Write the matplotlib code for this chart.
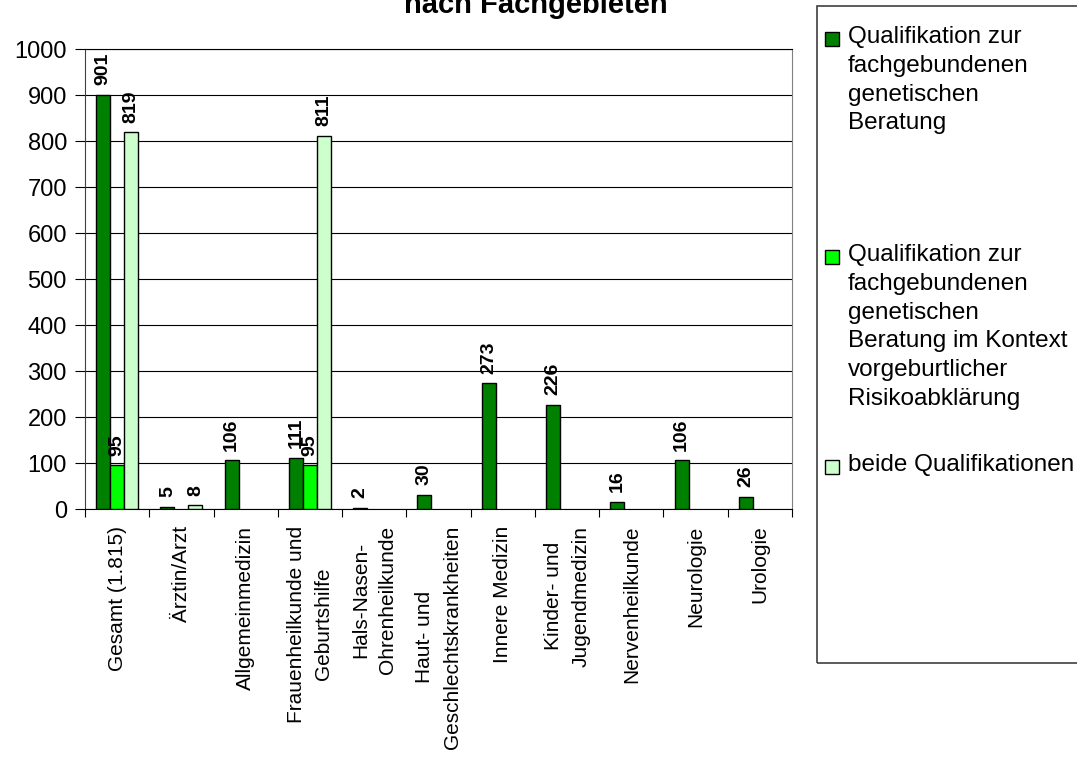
import numpy as np
import matplotlib
matplotlib.use('Agg')
import matplotlib.pyplot as plt
from matplotlib.patches import Rectangle

plt.rcParams['font.family'] = ['Liberation Sans', 'DejaVu Sans']

categories = ['Gesamt (1.815)', 'Ärztin/Arzt', 'Allgemeinmedizin',
              'Frauenheilkunde und\nGeburtshilfe', 'Hals-Nasen-\nOhrenheilkunde',
              'Haut- und\nGeschlechtskrankheiten', 'Innere Medizin',
              'Kinder- und\nJugendmedizin', 'Nervenheilkunde', 'Neurologie',
              'Urologie']
fachgebunden = [901, 5, 106, 111, 2, 30, 273, 226, 16, 106, 26]
vorgeburtlich = [95, 0, 0, 95, 0, 0, 0, 0, 0, 0, 0]
beide = [819, 8, 0, 811, 0, 0, 0, 0, 0, 0, 0]

series_names = ['Qualifikation zur\nfachgebundenen\ngenetischen\nBeratung',
                'Qualifikation zur\nfachgebundenen\ngenetischen\nBeratung im Kontext\n'
                'vorgeburtlicher\nRisikoabklärung',
                'beide Qualifikationen']
colors = ['#008000', '#00FF00', '#CCFFCC']
yticks = list(range(0, 1001, 100))

W, H = 1077, 758
fig = plt.figure(figsize=(W / 100, H / 100), dpi=100)
ax = fig.add_axes([85 / W, 1 - 509 / H, (792 - 85) / W, (509 - 49) / H])

x = np.arange(len(categories)) + 0.5
w = 0.218
for k, vals in enumerate([fachgebunden, vorgeburtlich, beide]):
    xs = x + (k - 1) * w
    # empty cells are not drawn in the reference
    heights = np.array([v if v > 0 else np.nan for v in vals], dtype=float)
    ax.bar(xs, heights, width=w, color=colors[k], edgecolor='black', linewidth=1, zorder=3)
    for xc, v in zip(xs, vals):
        if v > 0:
            ax.annotate(str(v), (xc, v), xytext=(0, 7), textcoords='offset points',
                        rotation=90, ha='center', va='bottom', fontweight='bold',
                        fontsize=14, zorder=4)

ax.set_xlim(0, len(categories))
ax.set_ylim(0, 1000)
ax.set_yticks(yticks)
ax.set_yticklabels([str(t) for t in yticks])
ax.yaxis.grid(True, color='black', linewidth=0.8, zorder=0)
ax.set_axisbelow(True)

ax.set_xticks(np.arange(len(categories) + 1))
ax.set_xticklabels([])
ax.set_xticks(x, minor=True)
ax.set_xticklabels(categories, minor=True, rotation=90, ha='center', va='top',
                   multialignment='center', linespacing=1.55)
ax.tick_params(axis='x', which='major', length=6, width=0.8, direction='out')
ax.tick_params(axis='x', which='minor', length=0, pad=12, labelsize=15)
ax.tick_params(axis='y', length=7, width=0.8, pad=6, labelsize=17)

ax.spines['left'].set_color('#404040')
ax.spines['bottom'].set_color('black')
ax.spines['right'].set_color('#808080')
ax.spines['top'].set_color('black')
for s in ax.spines.values():
    s.set_linewidth(0.8)

fig.text(536 / W, 1 - 13 / H, 'nach Fachgebieten', ha='center', va='baseline',
         fontsize=21, fontweight='bold')

# legend drawn by hand to follow the reference box
fig.add_artist(Rectangle((817 / W, 1 - 663 / H), (W - 817 + 20) / W, 657 / H,
                         transform=fig.transFigure, fill=False,
                         edgecolor='#404040', linewidth=1.2, clip_on=False))
entry_y = [39, 257, 467]
for name, col, yc in zip(series_names, colors, entry_y):
    fig.add_artist(Rectangle((825 / W, 1 - (yc + 7) / H), 14 / W, 14 / H,
                             transform=fig.transFigure, facecolor=col,
                             edgecolor='black', linewidth=1))
    fig.text(848 / W, 1 - (yc - 13) / H, name, ha='left', va='top',
             fontsize=17.5, linespacing=1.4)

fig.savefig('out.png', dpi=100)
